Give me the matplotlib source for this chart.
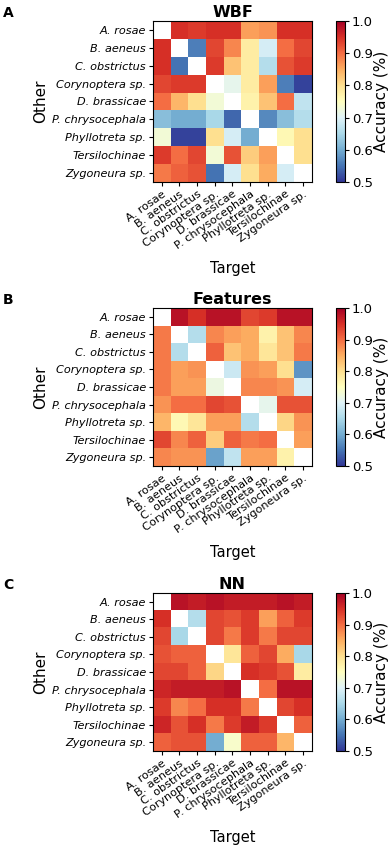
import numpy as np
import matplotlib
matplotlib.use("Agg")
import matplotlib.pyplot as plt

nan = np.nan

species = ["A. rosae", "B. aeneus", "C. obstrictus", "Corynoptera sp.",
           "D. brassicae", "P. chrysocephala", "Phyllotreta sp.",
           "Tersilochinae", "Zygoneura sp."]

# rows = Other, columns = Target
acc_wbf = [
    [nan, 0.95, 0.94, 0.95, 0.95, 0.86, 0.87, 0.95, 0.95],
    [0.95, nan, 0.56, 0.93, 0.88, 0.78, 0.69, 0.90, 0.93],
    [0.95, 0.55, nan, 0.94, 0.83, 0.78, 0.66, 0.92, 0.94],
    [0.93, 0.94, 0.94, nan, 0.71, 0.78, 0.86, 0.56, 0.51],
    [0.90, 0.84, 0.80, 0.73, nan, 0.77, 0.83, 0.90, 0.67],
    [0.62, 0.60, 0.60, 0.65, 0.54, nan, 0.57, 0.62, 0.66],
    [0.73, 0.51, 0.51, 0.80, 0.69, 0.60, nan, 0.76, 0.80],
    [0.94, 0.90, 0.93, 0.73, 0.92, 0.82, 0.86, nan, 0.80],
    [0.89, 0.91, 0.92, 0.55, 0.69, 0.80, 0.85, 0.69, nan],
]

acc_features = [
    [nan, 0.98, 0.95, 0.98, 0.98, 0.93, 0.94, 0.98, 0.98],
    [0.89, nan, 0.66, 0.88, 0.86, 0.85, 0.77, 0.83, 0.88],
    [0.89, 0.66, nan, 0.91, 0.83, 0.85, 0.79, 0.83, 0.89],
    [0.89, 0.86, 0.87, nan, 0.68, 0.87, 0.86, 0.80, 0.58],
    [0.89, 0.86, 0.86, 0.72, nan, 0.88, 0.88, 0.87, 0.69],
    [0.87, 0.90, 0.90, 0.93, 0.92, nan, 0.71, 0.92, 0.92],
    [0.84, 0.76, 0.79, 0.86, 0.86, 0.66, nan, 0.81, 0.87],
    [0.93, 0.88, 0.91, 0.82, 0.91, 0.89, 0.90, nan, 0.86],
    [0.88, 0.87, 0.87, 0.59, 0.67, 0.86, 0.86, 0.77, nan],
]

acc_nn = [
    [nan, 0.98, 0.97, 0.98, 0.97, 0.97, 0.97, 0.98, 0.97],
    [0.95, nan, 0.66, 0.93, 0.92, 0.94, 0.86, 0.91, 0.94],
    [0.93, 0.65, nan, 0.93, 0.89, 0.94, 0.89, 0.93, 0.93],
    [0.92, 0.91, 0.91, nan, 0.79, 0.91, 0.93, 0.85, 0.65],
    [0.93, 0.93, 0.91, 0.81, nan, 0.95, 0.94, 0.92, 0.78],
    [0.96, 0.97, 0.97, 0.97, 0.98, nan, 0.90, 0.98, 0.98],
    [0.94, 0.88, 0.90, 0.95, 0.95, 0.89, nan, 0.93, 0.95],
    [0.96, 0.92, 0.95, 0.89, 0.94, 0.97, 0.94, nan, 0.91],
    [0.91, 0.92, 0.92, 0.60, 0.74, 0.91, 0.91, 0.84, nan],
]

panels = [("A", "WBF", acc_wbf), ("B", "Features", acc_features), ("C", "NN", acc_nn)]

fig = plt.figure(figsize=(3.92, 8.5), dpi=100)
cmap = plt.get_cmap("RdYlBu_r").copy()
cmap.set_bad("white")

# top/bottom of each heatmap in figure fractions
rows = [(0.9753, 0.7859), (0.6376, 0.4518), (0.3024, 0.1165)]

for (letter, title, acc), (top, bot) in zip(panels, rows):
    ax = fig.add_axes([0.3903, bot, 0.4056, top - bot])
    im = ax.imshow(np.array(acc), cmap=cmap, vmin=0.5, vmax=1.0, aspect="auto")
    ax.set_xticks(range(len(species)))
    ax.set_yticks(range(len(species)))
    ax.set_xticklabels(species, rotation=35, ha="right", rotation_mode="anchor", fontsize=8.1)
    ax.set_yticklabels(species, fontsize=8.1, style="italic")
    ax.tick_params(length=3, pad=2)
    ax.set_title(title, fontsize=11.5, fontweight="bold", pad=3)
    ax.set_xlabel("Target", fontsize=10.5, labelpad=7)
    ax.set_ylabel("Other", fontsize=11, labelpad=3)

    cax = fig.add_axes([0.857, bot, 0.023, top - bot])
    cb = fig.colorbar(im, cax=cax, ticks=[0.5, 0.6, 0.7, 0.8, 0.9, 1.0])
    cb.ax.tick_params(labelsize=9.5, length=3, pad=2)
    cb.set_label("Accuracy (%)", fontsize=11, labelpad=1)

    fig.text(0.008, top + 0.018, letter, fontsize=10, fontweight="bold", va="top")

fig.savefig("out.png", dpi=100)
